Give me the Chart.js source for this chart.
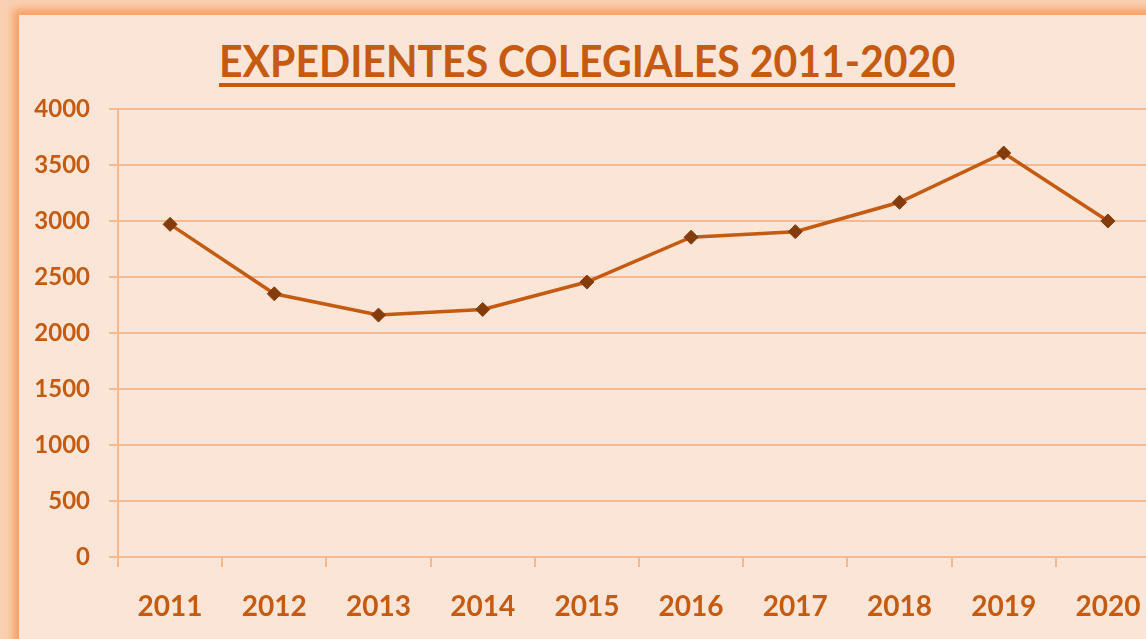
<!DOCTYPE html>
<html lang="es">
<head>
<meta charset="utf-8">
<title>Expedientes colegiales 2011-2020</title>
<script src="https://cdn.jsdelivr.net/npm/chart.js@4.4.1/dist/chart.umd.min.js"></script>
<style>
  html, body {
    margin: 0;
    padding: 0;
    width: 1146px;
    height: 639px;
    overflow: hidden;
    background: #f9d0b2;
    font-family: Lato, "Open Sans", sans-serif;
  }
  .panel {
    position: absolute;
    left: 19px;
    top: 15px;
    width: 1200px;
    height: 700px;
    background: #fbe5d6;
    box-shadow: 0 0 8px 6px #f8a062;
  }
  #title {
    position: absolute;
    left: 0;
    top: 35px;
    width: 1174px;
    text-align: center;
    font-size: 43px;
    line-height: 1.2;
    font-weight: bold;
    color: #c55a11;
    white-space: nowrap;
  }
  #title span {
    display: inline-block;
    text-decoration: underline;
    text-decoration-thickness: 3.5px;
    text-underline-offset: 6px;
    transform-origin: center;
  }
  .wrap {
    position: absolute;
    left: 0;
    top: 0;
    width: 1168px;
    height: 639px;
  }
</style>
</head>
<body>
<div class="panel"></div>
<div id="title"><span>EXPEDIENTES COLEGIALES 2011-2020</span></div>
<div class="wrap"><canvas id="chart"></canvas></div>
<script>
const years = ['2011', '2012', '2013', '2014', '2015', '2016', '2017', '2018', '2019', '2020'];
const expedientes = [2970, 2350, 2160, 2210, 2455, 2855, 2905, 3167, 3607, 3000];
const yTicks = [0, 500, 1000, 1500, 2000, 2500, 3000, 3500, 4000];

const orange = '#c55a11';
const gridColor = '#f5b990';

// ajustar el titulo al ancho del original (Calibri es mas estrecha)
const titleSpan = document.querySelector('#title span');
const targetWidth = 736;
titleSpan.style.transform = 'scaleX(' + (targetWidth / titleSpan.offsetWidth) + ')';

const ctx = document.getElementById('chart').getContext('2d');
new Chart(ctx, {
    type: 'line',
    data: {
        labels: years,
        datasets: [{
            label: 'Expedientes',
            data: expedientes,
            borderColor: orange,
            borderWidth: 3.5,
            pointStyle: 'rectRot',
            pointRadius: 7,
            pointBackgroundColor: '#843c0c',
            pointBorderColor: '#843c0c',
            pointBorderWidth: 1,
            tension: 0
        }]
    },
    options: {
        responsive: true,
        maintainAspectRatio: false,
        animation: false,
        layout: {
            padding: { top: 109, bottom: 0, left: 0, right: 0 }
        },
        scales: {
            x: {
                offset: true,
                afterFit: function(scale) {
                    scale.height = 82;
                },
                grid: {
                    offset: true,
                    drawOnChartArea: false,
                    drawTicks: true,
                    tickLength: 10,
                    color: gridColor,
                    lineWidth: 2
                },
                border: { color: gridColor, width: 2 },
                ticks: {
                    color: orange,
                    padding: 23,
                    font: { family: 'Lato', size: 28, weight: 'bold' },
                    maxRotation: 0
                }
            },
            y: {
                min: 0,
                max: 4000,
                afterBuildTicks: function(scale) {
                    scale.ticks = yTicks.map(v => ({ value: v }));
                },
                afterFit: function(scale) {
                    scale.width = 118;
                },
                grid: {
                    color: gridColor,
                    lineWidth: 2,
                    tickLength: 9
                },
                border: { color: gridColor, width: 2 },
                ticks: {
                    color: orange,
                    padding: 19,
                    font: { family: 'Lato', size: 24, weight: 'bold' },
                    callback: function(value) {
                        return String(value);
                    }
                }
            }
        },
        plugins: {
            legend: { display: false },
            tooltip: { enabled: false }
        }
    }
});
</script>
</body>
</html>
